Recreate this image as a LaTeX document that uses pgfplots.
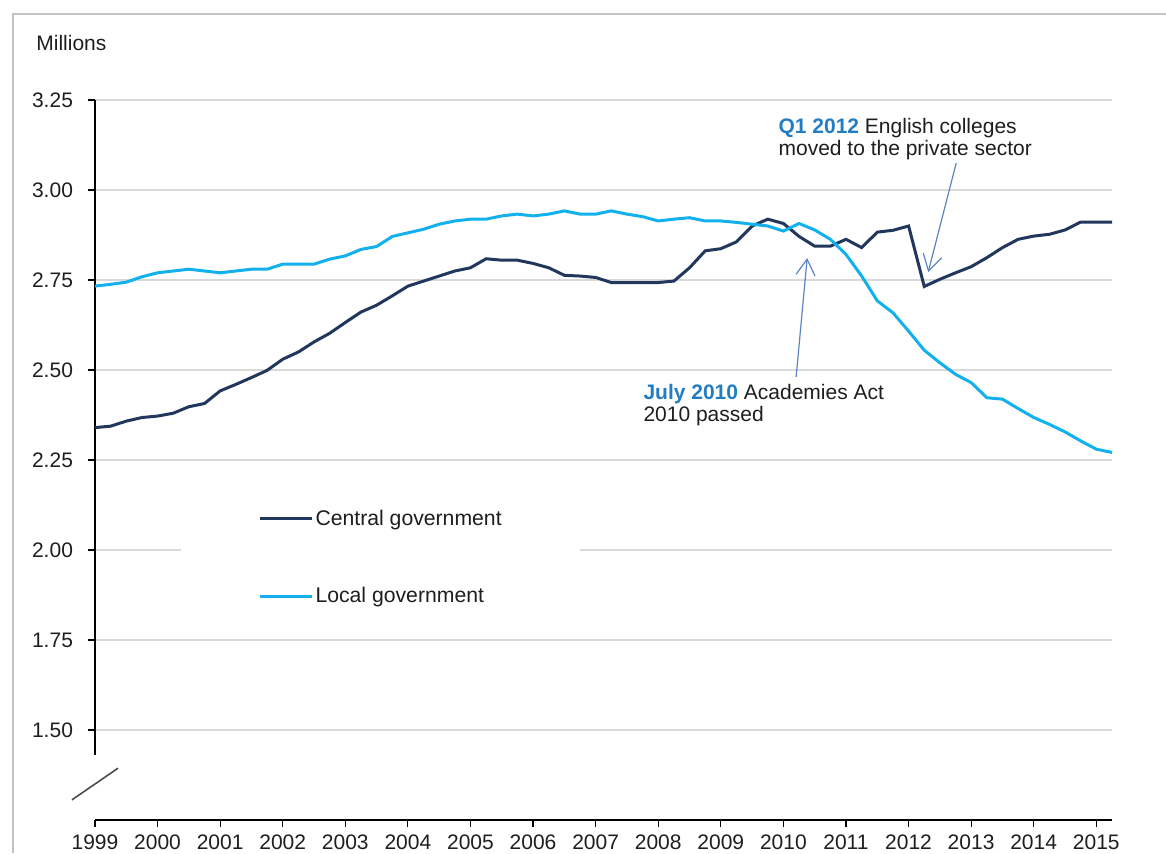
\documentclass[border=0pt]{standalone}
\usepackage{fontspec}
\setmainfont{Liberation Sans}
\usepackage{pgfplots}
\usepackage{pgfplotstable}
\pgfplotsset{compat=1.18}
\usetikzlibrary{arrows.meta}
\definecolor{cgov}{RGB}{33,56,92}
\definecolor{lgov}{RGB}{18,176,236}
\definecolor{annblue}{RGB}{35,125,195}
\definecolor{arrowblue}{RGB}{92,132,196}
\definecolor{gridgray}{RGB}{217,217,217}
\definecolor{framegray}{RGB}{195,195,195}
\definecolor{txt}{RGB}{30,30,30}

\pgfplotstableread{
x c l
1999.00 2.340 2.733
1999.25 2.344 2.738
1999.50 2.358 2.744
1999.75 2.368 2.759
2000.00 2.372 2.770
2000.25 2.380 2.775
2000.50 2.398 2.780
2000.75 2.407 2.775
2001.00 2.442 2.770
2001.25 2.460 2.775
2001.50 2.479 2.780
2001.75 2.499 2.780
2002.00 2.530 2.794
2002.25 2.550 2.794
2002.50 2.578 2.794
2002.75 2.602 2.808
2003.00 2.632 2.817
2003.25 2.661 2.835
2003.50 2.680 2.843
2003.75 2.706 2.871
2004.00 2.733 2.881
2004.25 2.747 2.891
2004.50 2.761 2.905
2004.75 2.775 2.914
2005.00 2.784 2.919
2005.25 2.809 2.919
2005.50 2.805 2.928
2005.75 2.805 2.933
2006.00 2.796 2.928
2006.25 2.784 2.933
2006.50 2.763 2.942
2006.75 2.761 2.933
2007.00 2.757 2.933
2007.25 2.743 2.942
2007.50 2.743 2.933
2007.75 2.743 2.926
2008.00 2.743 2.914
2008.25 2.747 2.919
2008.50 2.784 2.923
2008.75 2.831 2.914
2009.00 2.837 2.914
2009.25 2.856 2.910
2009.50 2.900 2.905
2009.75 2.919 2.900
2010.00 2.907 2.886
2010.25 2.871 2.907
2010.50 2.844 2.889
2010.75 2.844 2.863
2011.00 2.863 2.821
2011.25 2.840 2.761
2011.50 2.883 2.692
2011.75 2.888 2.659
2012.00 2.900 2.608
2012.25 2.732 2.555
2012.50 2.752 2.520
2012.75 2.770 2.488
2013.00 2.787 2.465
2013.25 2.812 2.423
2013.50 2.840 2.419
2013.75 2.863 2.393
2014.00 2.872 2.368
2014.25 2.877 2.349
2014.50 2.889 2.328
2014.75 2.911 2.303
2015.00 2.911 2.280
2015.25 2.911 2.271
}\data

\begin{document}
\begin{tikzpicture}
\useasboundingbox (-47.5pt,-16.5pt) rectangle (535.5pt,410pt);
\draw[framegray, line width=0.6pt] (-41pt,-16.5pt) -- (-41pt,403pt) -- (535.5pt,403pt);
\node[anchor=base west, inner sep=0pt, text=txt, font=\fontsize{10.5}{12}\selectfont] at (-29.5pt,384.5pt) {Millions};
\begin{axis}[
  scale only axis, width=508.5pt, height=360pt,
  xmin=1999, xmax=2015.25, ymin=1.25, ymax=3.25,
  clip=false,
  axis x line*=bottom, axis y line*=left,
  x axis line style={-, line width=0.7pt, black},
  y axis line style={draw=none},
  xtick={1999,...,2015},
  minor x tick num=3,
  ytick={1.5,1.75,2,2.25,2.5,2.75,3,3.25},
  tick align=outside,
  major tick length=3.5pt, minor tick length=3.5pt,
  tick style={black, line width=0.6pt},
  ymajorgrids,
  major grid style={gridgray, line width=0.7pt},
  /pgf/number format/assume math mode=true,
  x tick label style={font=\fontsize{10.5}{12}\selectfont, text=txt, yshift=-0.5pt, /pgf/number format/1000 sep={}},
  y tick label style={font=\fontsize{10.5}{12}\selectfont, text=txt, xshift=-4pt, /pgf/number format/.cd, fixed, fixed zerofill, precision=2},
  legend style={draw=none, fill=none, at={(axis cs:2001.6,1.979)}, anchor=west, inner sep=0pt, row sep=27pt, font=\fontsize{10.6}{12}\selectfont, nodes={inner sep=1.2pt, text=txt}},
  legend cell align=left,
  legend image code/.code={\draw[#1] (0pt,0pt) -- (26pt,0pt);},
]
\fill[white] (axis cs:2000.374,1.778) rectangle (axis cs:2006.751,2.222);
\draw[black, line width=0.7pt] (axis cs:1999,3.25) -- (axis cs:1999,1.43);
\draw[black!70, line width=0.8pt] (axis cs:1998.632,1.306) -- (axis cs:1999.368,1.394);
\addplot[cgov, line width=1.5pt, no markers] table[x=x,y=c]{\data};
\addlegendentry{Central government}
\addplot[lgov, line width=1.5pt, no markers] table[x=x,y=l]{\data};
\addlegendentry{Local government}
\node[anchor=base west, inner sep=0pt, text=txt, font=\fontsize{10.5}{12}\selectfont] at (axis cs:2009.916,3.158) {\textcolor{annblue}{\textbf{Q1 2012}} English colleges};
\node[anchor=base west, inner sep=0pt, text=txt, font=\fontsize{10.5}{12}\selectfont] at (axis cs:2009.916,3.097) {moved to the private sector};
\draw[arrowblue, line width=0.6pt, -{Straight Barb[length=8pt,width=9.5pt]}] (axis cs:2012.761,3.075) -- (axis cs:2012.313,2.772);
\node[anchor=base west, inner sep=0pt, text=txt, font=\fontsize{10.5}{12}\selectfont] at (axis cs:2007.758,2.419) {\textcolor{annblue}{\textbf{July 2010}} Academies Act};
\node[anchor=base west, inner sep=0pt, text=txt, font=\fontsize{10.5}{12}\selectfont] at (axis cs:2007.758,2.356) {2010 passed};
\draw[arrowblue, line width=0.6pt, -{Straight Barb[length=8pt,width=9.5pt]}] (axis cs:2010.203,2.481) -- (axis cs:2010.379,2.811);
\end{axis}
\end{tikzpicture}
\end{document}
